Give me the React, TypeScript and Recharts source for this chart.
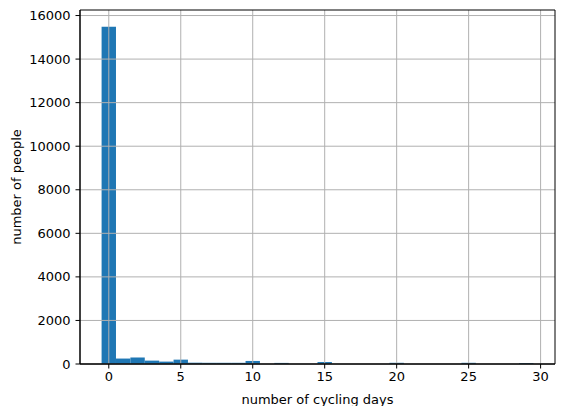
import React from 'react';
import { ComposedChart, XAxis, YAxis, ReferenceArea, ReferenceLine, Line, Label } from 'recharts';

const days = [0, 1, 2, 3, 4, 5, 6, 7, 8, 9, 10, 11, 12, 13, 14, 15, 16, 17, 18, 19, 20, 21, 22, 23, 24, 25, 26, 27, 28, 29];
const counts = [15480, 250, 295, 155, 110, 200, 60, 55, 55, 55, 140, 0, 50, 0, 0, 90, 0, 0, 0, 0, 55, 0, 0, 0, 0, 55, 0, 0, 0, 50];
const xTicks = [0, 5, 10, 15, 20, 25, 30];
const yTicks = [0, 2000, 4000, 6000, 8000, 10000, 12000, 14000, 16000];
const xLabel = 'number of cycling days';
const yLabel = 'number of people';

const X_DOMAIN: [number, number] = [-2, 31];
const Y_DOMAIN: [number, number] = [0, 16254];
const FONT = 'DejaVu Sans';
const FS = 13;
const BAR = '#1f77b4';
const GRID = '#b0b0b0';

const data = days.map((d, i) => ({ day: d, count: counts[i] }));

export default function App() {
  return (
    <ComposedChart
      width={549}
      height={398}
      data={data}
      margin={{ top: 2, right: 2, left: 0, bottom: 0 }}
      style={{ fontFamily: FONT }}
    >
      <XAxis
        dataKey="day"
        type="number"
        domain={X_DOMAIN}
        allowDataOverflow
        ticks={xTicks}
        interval={0}
        height={42}
        tickSize={4.5}
        tickMargin={3}
        axisLine={{ stroke: '#000', strokeWidth: 1 }}
        tickLine={{ stroke: '#000', strokeWidth: 1 }}
        tick={{ fill: '#000', fontSize: FS, fontFamily: FONT }}
      >
        <Label
          content={(props: any) => {
            const vb = props.viewBox || {};
            return (
              <text
                x={vb.x + vb.width / 2}
                y={vb.y + 35}
                textAnchor="middle"
                dominantBaseline="central"
                fill="#000"
                fontSize={FS}
                fontFamily={FONT}
              >
                {xLabel}
              </text>
            );
          }}
        />
      </XAxis>
      <YAxis
        type="number"
        domain={Y_DOMAIN}
        allowDataOverflow
        ticks={yTicks}
        interval={0}
        width={72}
        tickSize={4.5}
        tickMargin={5}
        axisLine={{ stroke: '#000', strokeWidth: 1 }}
        tickLine={{ stroke: '#000', strokeWidth: 1 }}
        tick={{ fill: '#000', fontSize: FS, fontFamily: FONT }}
      >
        <Label
          content={(props: any) => {
            const vb = props.viewBox || {};
            const cx = 8;
            const cy = vb.y + vb.height / 2;
            return (
              <text
                x={cx}
                y={cy}
                textAnchor="middle"
                dominantBaseline="central"
                transform={`rotate(-90 ${cx} ${cy})`}
                fill="#000"
                fontSize={FS}
                fontFamily={FONT}
              >
                {yLabel}
              </text>
            );
          }}
        />
      </YAxis>
      {data.filter((d) => d.count > 0).map((d) => (
        <ReferenceArea
          key={`bar-${d.day}`}
          x1={d.day - 0.5}
          x2={d.day + 0.5}
          y1={0}
          y2={d.count}
          fill={BAR}
          fillOpacity={1}
          stroke="none"
          ifOverflow="visible"
        />
      ))}
      {xTicks.map((t) => (
        <ReferenceLine key={`gx-${t}`} x={t} stroke={GRID} strokeWidth={1} ifOverflow="visible" />
      ))}
      {yTicks.map((t) => (
        <ReferenceLine key={`gy-${t}`} y={t} stroke={GRID} strokeWidth={1} ifOverflow="visible" />
      ))}
      <ReferenceLine y={Y_DOMAIN[1]} stroke="#000" strokeWidth={1} ifOverflow="visible" />
      <ReferenceLine x={X_DOMAIN[1]} stroke="#000" strokeWidth={1} ifOverflow="visible" />
      <ReferenceLine y={0} stroke="#000" strokeWidth={1} ifOverflow="visible" />
      <ReferenceLine x={X_DOMAIN[0]} stroke="#000" strokeWidth={1} ifOverflow="visible" />
      <Line dataKey="count" stroke="none" dot={false} activeDot={false} isAnimationActive={false} />
    </ComposedChart>
  );
}
